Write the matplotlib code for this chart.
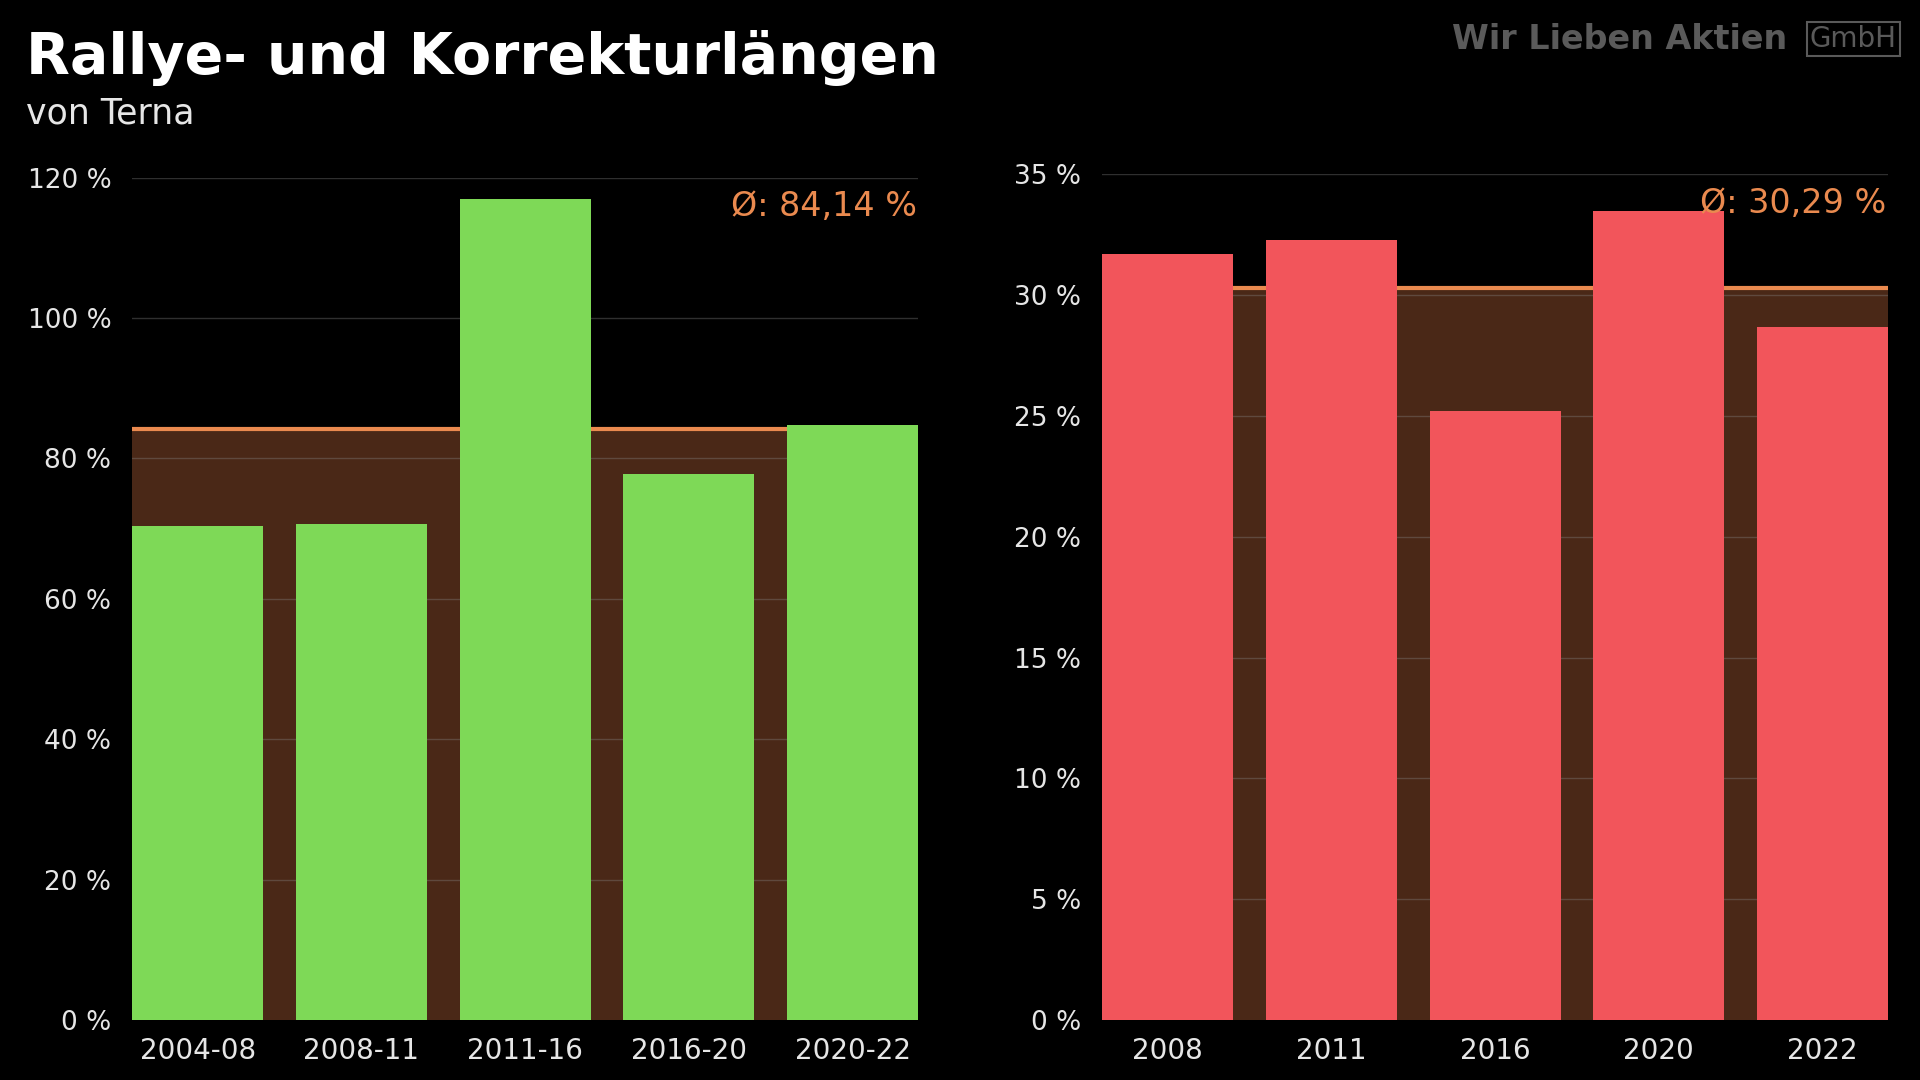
"""Rallye- und Korrekturlängen von Terna: two bar panels with average band."""

import matplotlib

matplotlib.use("Agg")
import matplotlib.pyplot as plt
import numpy as np
from matplotlib.ticker import FuncFormatter

plt.rcParams["font.family"] = ["DejaVu Sans"]

rally_periods = ["2004-08", "2008-11", "2011-16", "2016-20", "2020-22"]
rally_values = [70.3, 70.6, 117.0, 77.8, 84.8]
rally_mean = 84.14

corr_years = ["2008", "2011", "2016", "2020", "2022"]
corr_values = [31.7, 32.3, 25.2, 33.5, 28.7]
corr_mean = 30.29

BG = "#000000"
GREEN = "#7ed957"
RED = "#f2555b"
BROWN = "#4a2817"
ORANGE = "#ea8a4f"
TEXT = "#e6e6e6"
LOGO = "#5a5a5a"


def pct(v, _pos):
    return f"{v:.0f} %"


def panel(ax, labels, values, mean, color, ymax, step):
    x = np.arange(len(labels))
    ax.set_facecolor(BG)
    ax.set_xlim(-0.4, len(labels) - 0.6)
    ax.set_ylim(0, ymax)
    ax.axhspan(0, mean, color=BROWN, zorder=0.5, lw=0)
    ax.axhline(mean, color=ORANGE, lw=3, zorder=1.5)
    for y in np.arange(step, ymax + step / 2, step):
        ax.axhline(y, color="#888888", alpha=0.35, lw=1, zorder=1)
    ax.bar(x, values, width=0.8, color=color, zorder=2)
    ax.set_xticks(x)
    ax.set_xticklabels(labels)
    ax.set_yticks(np.arange(0, ymax + step / 2, step))
    ax.yaxis.set_major_formatter(FuncFormatter(pct))
    ax.tick_params(colors=TEXT, labelsize=19, length=0, pad=15)
    ax.tick_params(axis="x", labelsize=20, pad=12)
    for s in ax.spines.values():
        s.set_visible(False)
    ax.text(0.998, 0.985, f"Ø: {mean:.2f} %".replace(".", ","),
            transform=ax.transAxes, ha="right", va="top",
            color=ORANGE, fontsize=24)


fig = plt.figure(figsize=(19.2, 10.8), dpi=100, facecolor=BG)
ax1 = fig.add_axes([0.0688, 0.0556, 0.4094, 0.780])
ax2 = fig.add_axes([0.5740, 0.0556, 0.4094, 0.783])

panel(ax1, rally_periods, rally_values, rally_mean, GREEN, 120, 20)
panel(ax2, corr_years, corr_values, corr_mean, RED, 35, 5)

fig.text(0.0135, 0.946, "Rallye- und Korrekturlängen", color="white",
         fontsize=41, fontweight="bold", va="center", ha="left")
fig.text(0.0135, 0.895, "von Terna", color=TEXT, fontsize=25,
         va="center", ha="left")

# logo
fig.text(0.756, 0.963, "Wir Lieben Aktien", color=LOGO, fontsize=24,
         fontweight="bold", va="center", ha="left")
fig.text(0.988, 0.964, "GmbH", color=LOGO, fontsize=20,
         va="center", ha="right",
         bbox=dict(boxstyle="square,pad=0.12", fc="none", ec=LOGO, lw=1.5))

fig.savefig("out.png", dpi=100, facecolor=BG)
